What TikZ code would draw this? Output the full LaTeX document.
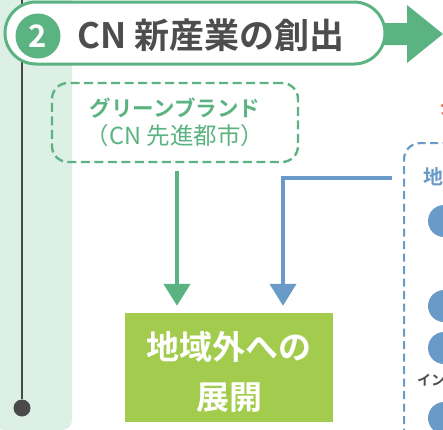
\documentclass[tikz,border=0pt]{standalone}
\usepackage{fontspec}
\setmainfont{Noto Sans CJK JP}[BoldFont={Noto Sans CJK JP Bold}]
\usetikzlibrary{arrows.meta}
\definecolor{cgreen}{HTML}{5BB382}
\definecolor{cpanel}{HTML}{DDF0E5}
\definecolor{cblue}{HTML}{6A9AC8}
\definecolor{clime}{HTML}{A3CC4F}
\definecolor{ctext}{HTML}{4D4D4D}
\definecolor{cred}{HTML}{E06A5A}
\definecolor{cdark}{HTML}{4A4A4A}
\begin{document}
\begin{tikzpicture}[x=1pt,y=-1pt,
  pill/.style={draw=cgreen, line width=3pt, fill=white, rounded corners=31pt, minimum width=380pt, minimum height=62pt, inner sep=0pt},
  numcirc/.style={circle, fill=cgreen, minimum size=45pt, inner sep=0pt, text=white, font=\fontsize{31}{34}\selectfont\bfseries},
  titletext/.style={inner sep=0pt, text=ctext, font=\fontsize{35}{40}\selectfont\bfseries},
  gdash/.style={draw=cgreen, line width=2.4pt, dash pattern=on 9pt off 4.5pt, rounded corners=16pt, minimum width=246pt, minimum height=79pt, align=center, inner sep=0pt, text=cgreen, font=\fontsize{22}{28}\selectfont},
  bdash/.style={draw=cblue, line width=2.2pt, dash pattern=on 8pt off 4.5pt, rounded corners=16pt, minimum width=200pt, minimum height=400pt, inner sep=0pt},
  limebox/.style={fill=clime, minimum width=208pt, minimum height=109pt, inner sep=0pt},
  limetext/.style={inner sep=0pt, align=center, text=white, font=\fontsize{33}{50}\selectfont\bfseries},
  dotnode/.style={circle, fill=cdark, minimum size=17pt, inner sep=0pt},
  vline/.style={draw=cdark, line width=2pt},
  garrow/.style={draw=cgreen, line width=4.5pt, -{Triangle[width=26pt,length=22pt]}},
  barrow/.style={draw=cblue, line width=4pt, -{Triangle[width=26pt,length=22pt]}},
  bcirc/.style={circle, fill=cblue, minimum size=32pt, inner sep=0pt},
  bluetitle/.style={inner sep=0pt, text=cblue, font=\fontsize{20}{24}\selectfont\bfseries},
  graytxt/.style={inner sep=0pt, text=ctext, font=\fontsize{14}{16}\selectfont\bfseries},
  redtxt/.style={inner sep=0pt, text=cred, font=\fontsize{18}{20}\selectfont\bfseries}
]
\useasboundingbox (0,0) rectangle (443,429);
\clip (0,0) rectangle (443,429);
% left panel
\fill[cpanel] (-5,-5) -- (72,-5) [rounded corners=10pt] -- (72,430) -- (-5,430) -- cycle;
% timeline
\node[dotnode] (dot) at (22,408) {};
\coordinate (ltop) at (22,-3);
\draw[vline] (ltop) -- (dot);
% title arrow
\fill[cgreen] (378,23) -- (407,23) -- (407,5) -- (443,34) -- (407,63) -- (407,45) -- (378,45) -- cycle;
\node[pill] (title) at (195,33) {};
\node[numcirc] (num) at (38,36) {2};
\node[titletext, anchor=west] (ttl) at (77,35) {CN 新産業の創出};
% green dashed box
\node[gdash] (gbox) at (175,122.5) {{\fontsize{21.5}{28}\selectfont\bfseries グリーンブランド}\\{\fontsize{23.5}{28}\selectfont （CN 先進都市）}};
% blue dashed box (mostly off-picture)
\node[bdash, anchor=north west] (bbox) at (403,142) {};
\node[bluetitle, anchor=west] (chi) at (423,177) {地域};
\node[bcirc] (c1) at (444,221) {};
\node[bcirc] (c2) at (444,306) {};
\node[bcirc] (c3) at (444,348) {};
\node[graytxt, anchor=west] (inf) at (417,380) {イン};
\node[bcirc] (c4) at (444,418) {};
\node[redtxt, anchor=west] (red) at (439,108) {シ};
% lime box
\node[limebox] (lime) at (229,367.5) {};
\node[limetext] (limet) at (229,372) {地域外への\\展開};
% connectors
\coordinate (gx) at (177,0);
\coordinate (bx) at (283,0);
\coordinate (by) at (0,178);
\draw[garrow, shorten <=8pt, shorten >=7pt] (gbox.south -| gx) -- (lime.north -| gx);
\draw[barrow, shorten <=11pt, shorten >=7pt] (bbox.west |- by) -| (lime.north -| bx);
\end{tikzpicture}
\end{document}
